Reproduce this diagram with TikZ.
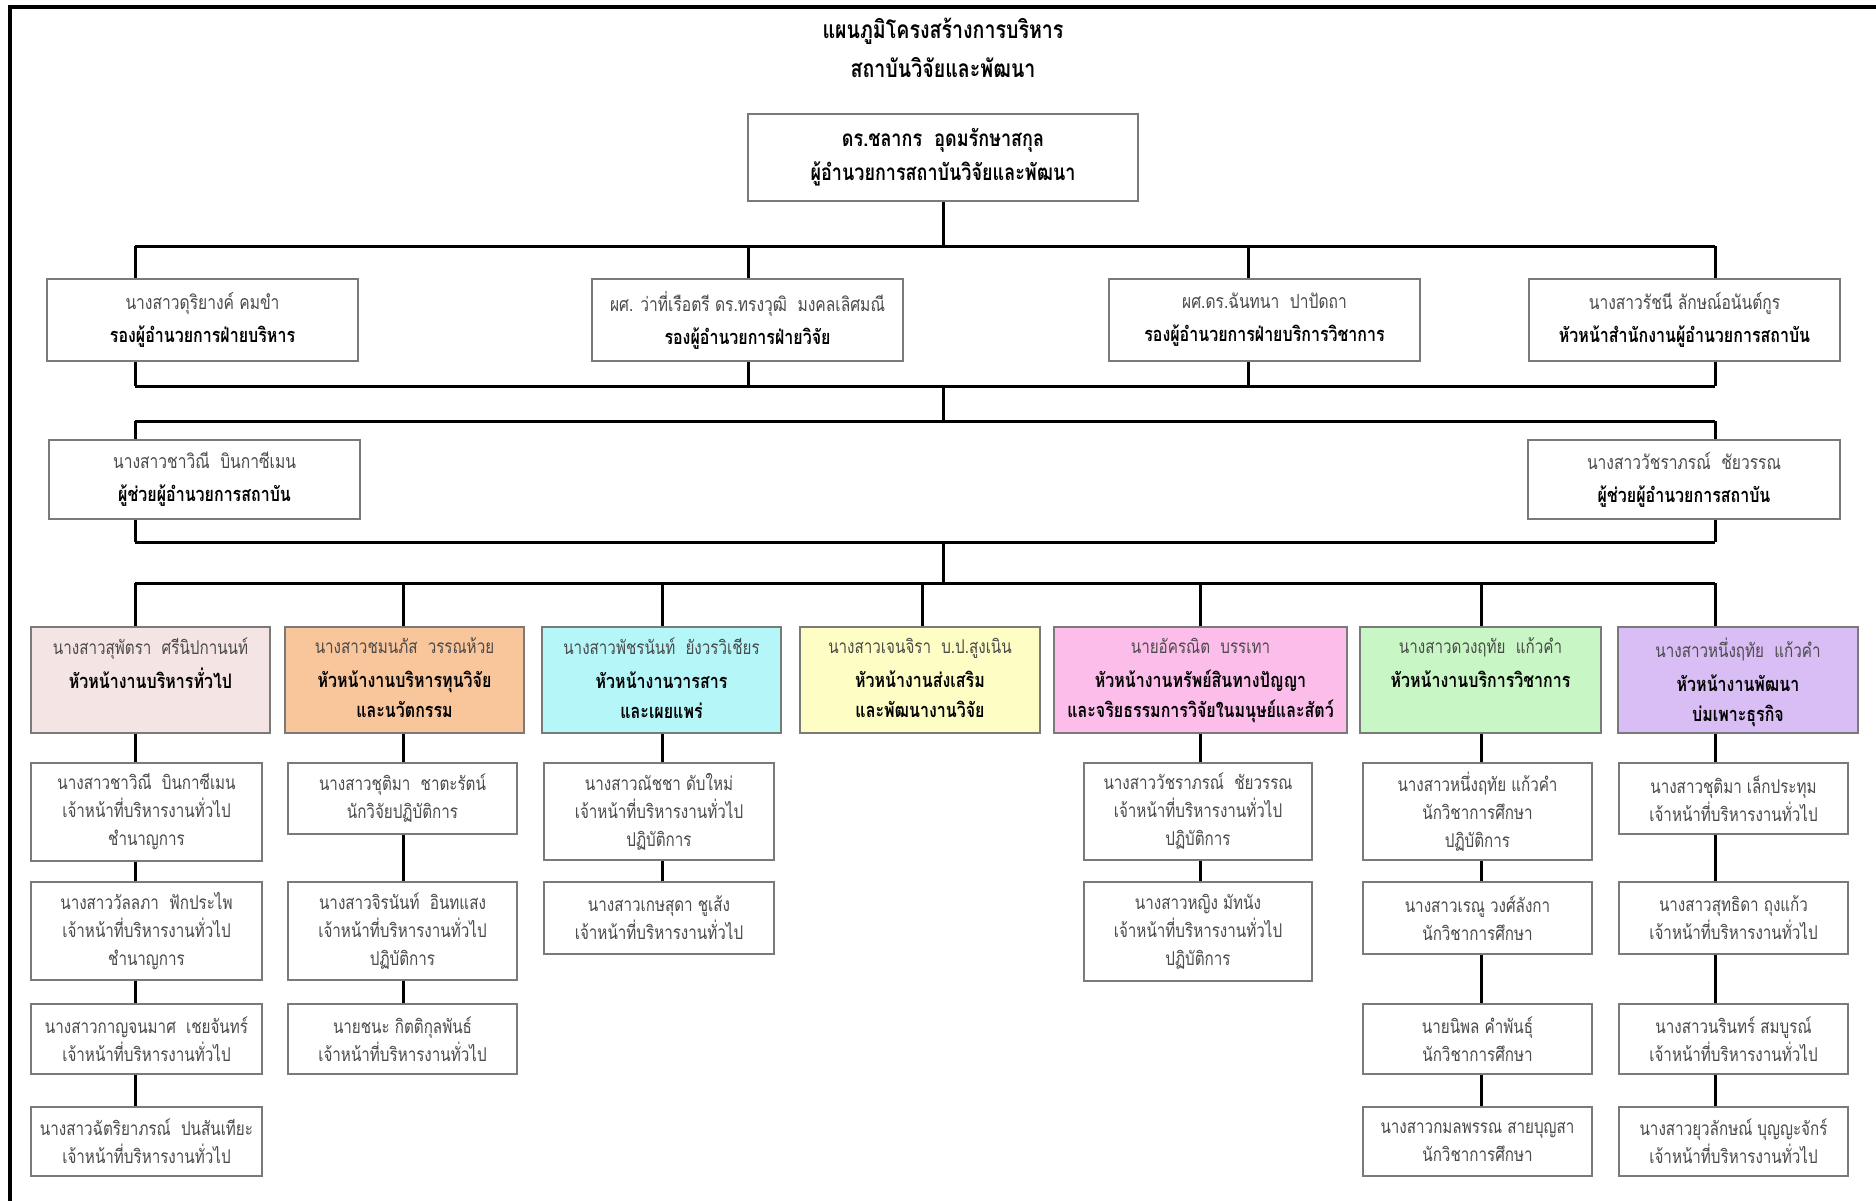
\documentclass[tikz,border=0pt]{standalone}
\usepackage{fontspec}
\newfontfamily\thaifont[Script=Thai,FakeStretch=0.8]{Loma}
\definecolor{hA}{HTML}{F4E4E4}
\definecolor{hB}{HTML}{F9C59B}
\definecolor{hC}{HTML}{B5F6F8}
\definecolor{hD}{HTML}{FEFEC4}
\definecolor{hE}{HTML}{FCBDEA}
\definecolor{hF}{HTML}{C8F7C5}
\definecolor{hG}{HTML}{D9BDF5}
\definecolor{edge}{HTML}{7A7A7A}
\definecolor{nmc}{HTML}{4A4A4A}
\newcommand\nmx[1]{{\color{nmc}#1}}
\newcommand\hdtext[4]{\parbox[c][#2pt][t]{#1pt}{\centering\vspace*{10pt}\nmx{#3}\\[4pt]\fontsize{20}{30}\selectfont\bfseries\color{black}#4}}
\tikzset{
  conn/.style={line width=3pt, black},
  box/.style={draw=edge, line width=1.3pt, fill=white, align=center, inner sep=0pt,
    font=\thaifont\fontsize{19}{28}\selectfont, text=nmc},
  colbox/.style={box},
  bigbox/.style={box, font=\thaifont\fontsize{19.5}{33}\selectfont},
  headbox/.style={box, font=\thaifont\fontsize{19}{31}\selectfont},
  titletext/.style={align=center, inner sep=0pt, font=\thaifont\bfseries\fontsize{24.5}{39}\selectfont}
}
\newcommand\bt[1]{\textcolor{black}{\fontsize{20}{33}\selectfont\bfseries #1}}
\begin{document}
\begin{tikzpicture}[x=1pt,y=-1pt]
\useasboundingbox (0,0) rectangle (1876,1201);
% frame (top and left visible)
\draw[line width=3.5pt] (10,1201) -- (10,7) -- (1876,7);

% title
\node[titletext] (title) at (943,48) {แผนภูมิโครงสร้างการบริหาร\\สถาบันวิจัยและพัฒนา};

% director
\node[box, minimum width=390, minimum height=87, font=\thaifont\bfseries\fontsize{22.5}{34}\selectfont, text=black] (dir) at (943,157.5)
  {ดร.ชลากร~~อุดมรักษาสกุล\\ผู้อำนวยการสถาบันวิจัยและพัฒนา};

% bus coordinates
\coordinate (b1c) at (943,246);
\coordinate (b1l) at (135,246);
\coordinate (b1r) at (1715,246);
\coordinate (k2) at (748,246);
\coordinate (k3) at (1248,246);
\coordinate (b2c) at (943,386);
\coordinate (b2l) at (135,386);
\coordinate (b2r) at (1715,386);
\coordinate (b3c) at (943,421);
\coordinate (b3l) at (135,421);
\coordinate (b3r) at (1715,421);
\coordinate (b4c) at (943,542);
\coordinate (b4l) at (135,542);
\coordinate (b4r) at (1715,542);
\coordinate (b5c) at (943,583);
\coordinate (b5l) at (135,583);
\coordinate (b5r) at (1715,583);
\coordinate (x2) at (403,583);
\coordinate (x3) at (662,583);
\coordinate (x4) at (922,583);
\coordinate (x5) at (1200,583);
\coordinate (x6) at (1481,583);

% row 2
\node[bigbox, minimum width=311, minimum height=82] (ra) at (202.5,320)
  {นางสาวดุริยางค์ คมขำ\\\bt{รองผู้อำนวยการฝ่ายบริหาร}};
\node[bigbox, minimum width=311, minimum height=82] (rb) at (747.5,320)
  {ผศ. ว่าที่เรือตรี ดร.ทรงวุฒิ~~มงคลเลิศมณี\\\bt{รองผู้อำนวยการฝ่ายวิจัย}};
\node[bigbox, minimum width=311, minimum height=82] (rc) at (1264.5,320)
  {ผศ.ดร.ฉันทนา~~ปาปัดถา\\\bt{รองผู้อำนวยการฝ่ายบริการวิชาการ}};
\node[bigbox, minimum width=311, minimum height=82] (rd) at (1684.5,320)
  {นางสาวรัชนี ลักษณ์อนันต์กูร\\\bt{หัวหน้าสำนักงานผู้อำนวยการสถาบัน}};

% row 3
\node[bigbox, minimum width=311, minimum height=79] (sl) at (204.5,479.5)
  {นางสาวชาวิณี~~บินกาซีเมน\\\bt{ผู้ช่วยผู้อำนวยการสถาบัน}};
\node[bigbox, minimum width=312, minimum height=79] (sr) at (1684,479.5)
  {นางสาววัชราภรณ์~~ชัยวรรณ\\\bt{ผู้ช่วยผู้อำนวยการสถาบัน}};

% heads
\node[headbox, fill=hA, minimum width=239, minimum height=106] (h1) at (150.5,680)
  {\hdtext{235}{104}{นางสาวสุพัตรา~~ศรีนิปกานนท์}{หัวหน้างานบริหารทั่วไป}};
\node[headbox, fill=hB, minimum width=239, minimum height=106] (h2) at (404.5,680)
  {\hdtext{235}{104}{นางสาวชมนภัส~~วรรณห้วย}{หัวหน้างานบริหารทุนวิจัย\\และนวัตกรรม}};
\node[headbox, fill=hC, minimum width=239, minimum height=106] (h3) at (661.5,680)
  {\hdtext{235}{104}{นางสาวพัชรนันท์~~ยังวรวิเชียร}{หัวหน้างานวารสาร\\และเผยแพร่}};
\node[headbox, fill=hD, minimum width=240, minimum height=106] (h4) at (920,680)
  {\hdtext{236}{104}{นางสาวเจนจิรา~~บ.ป.สูงเนิน}{หัวหน้างานส่งเสริม\\และพัฒนางานวิจัย}};
\node[headbox, fill=hE, minimum width=293, minimum height=106] (h5) at (1200.5,680)
  {\hdtext{289}{104}{นายอัครณิต~~บรรเทา}{หัวหน้างานทรัพย์สินทางปัญญา\\และจริยธรรมการวิจัยในมนุษย์และสัตว์}};
\node[headbox, fill=hF, minimum width=241, minimum height=106] (h6) at (1480.5,680)
  {\hdtext{237}{104}{นางสาวดวงฤทัย~~แก้วคำ}{หัวหน้างานบริการวิชาการ}};
\node[headbox, fill=hG, minimum width=240, minimum height=106] (h7) at (1738,680)
  {\hdtext{236}{104}{นางสาวหนึ่งฤทัย~~แก้วคำ}{หัวหน้างานพัฒนา\\บ่มเพาะธุรกิจ}};

% column 1
\node[colbox, minimum width=231, minimum height=98] (c1a) at (146.5,812)
  {นางสาวชาวิณี~~บินกาซีเมน\\เจ้าหน้าที่บริหารงานทั่วไป\\ชำนาญการ};
\node[colbox, minimum width=231, minimum height=98] (c1b) at (146.5,931)
  {นางสาววัลลภา~~ฟักประไพ\\เจ้าหน้าที่บริหารงานทั่วไป\\ชำนาญการ};
\node[colbox, minimum width=231, minimum height=70] (c1c) at (146.5,1039)
  {นางสาวกาญจนมาศ~~เชยจันทร์\\เจ้าหน้าที่บริหารงานทั่วไป};
\node[colbox, minimum width=231, minimum height=69] (c1d) at (146.5,1141.5)
  {นางสาวฉัตริยาภรณ์~~ปนสันเทียะ\\เจ้าหน้าที่บริหารงานทั่วไป};
% column 2
\node[colbox, minimum width=229, minimum height=71] (c2a) at (402.5,798.5)
  {นางสาวชุติมา~~ชาตะรัตน์\\นักวิจัยปฏิบัติการ};
\node[colbox, minimum width=229, minimum height=98] (c2b) at (402.5,931)
  {นางสาวจิรนันท์~~อินทแสง\\เจ้าหน้าที่บริหารงานทั่วไป\\ปฏิบัติการ};
\node[colbox, minimum width=229, minimum height=70] (c2c) at (402.5,1039)
  {นายชนะ กิตติกุลพันธ์\\เจ้าหน้าที่บริหารงานทั่วไป};
% column 3
\node[colbox, minimum width=230, minimum height=97] (c3a) at (659,811.5)
  {นางสาวณัชชา ดับใหม่\\เจ้าหน้าที่บริหารงานทั่วไป\\ปฏิบัติการ};
\node[colbox, minimum width=230, minimum height=72] (c3b) at (659,918)
  {นางสาวเกษสุดา ชูเส้ง\\เจ้าหน้าที่บริหารงานทั่วไป};
% column 5
\node[colbox, minimum width=228, minimum height=97] (c5a) at (1198,811.5)
  {นางสาววัชราภรณ์~~ชัยวรรณ\\เจ้าหน้าที่บริหารงานทั่วไป\\ปฏิบัติการ};
\node[colbox, minimum width=228, minimum height=99] (c5b) at (1198,931.5)
  {นางสาวหญิง มัทนัง\\เจ้าหน้าที่บริหารงานทั่วไป\\ปฏิบัติการ};
% column 6
\node[colbox, minimum width=229, minimum height=97] (c6a) at (1477.5,811.5)
  {นางสาวหนึ่งฤทัย แก้วคำ\\นักวิชาการศึกษา\\ปฏิบัติการ};
\node[colbox, minimum width=229, minimum height=72] (c6b) at (1477.5,918)
  {นางสาวเรณู วงศ์ลังกา\\นักวิชาการศึกษา};
\node[colbox, minimum width=229, minimum height=70] (c6c) at (1477.5,1039)
  {นายนิพล คำพันธุ์\\นักวิชาการศึกษา};
\node[colbox, minimum width=229, minimum height=69] (c6d) at (1477.5,1141.5)
  {นางสาวกมลพรรณ สายบุญสา\\นักวิชาการศึกษา};
% column 7
\node[colbox, minimum width=229, minimum height=71] (c7a) at (1733.5,798.5)
  {นางสาวชุติมา เล็กประทุม\\เจ้าหน้าที่บริหารงานทั่วไป};
\node[colbox, minimum width=229, minimum height=72] (c7b) at (1733.5,918)
  {นางสาวสุทธิดา ถุงแก้ว\\เจ้าหน้าที่บริหารงานทั่วไป};
\node[colbox, minimum width=229, minimum height=70] (c7c) at (1733.5,1039)
  {นางสาวนรินทร์ สมบูรณ์\\เจ้าหน้าที่บริหารงานทั่วไป};
\node[colbox, minimum width=229, minimum height=69] (c7d) at (1733.5,1141.5)
  {นางสาวยุวลักษณ์ บุญญะจักร์\\เจ้าหน้าที่บริหารงานทั่วไป};

% connectors: director to row 2
\draw[conn] (dir) -- (b1c);
\draw[conn] (b1l) -- (b1r);
\draw[conn] (b1l) -- (b1l |- ra.north);
\draw[conn] (k2) -- (k2 |- rb.north);
\draw[conn] (k3) -- (k3 |- rc.north);
\draw[conn] (b1r) -- (b1r |- rd.north);
% row 2 to bus 2
\draw[conn] (b1l |- ra.south) -- (b2l);
\draw[conn] (k2 |- rb.south) -- (k2 |- b2c);
\draw[conn] (k3 |- rc.south) -- (k3 |- b2c);
\draw[conn] (b1r |- rd.south) -- (b2r);
\draw[conn] (b2l) -- (b2r);
\draw[conn] (b2c) -- (b3c);
\draw[conn] (b3l) -- (b3r);
\draw[conn] (b3l) -- (b3l |- sl.north);
\draw[conn] (b3r) -- (b3r |- sr.north);
\draw[conn] (b3l |- sl.south) -- (b4l);
\draw[conn] (b3r |- sr.south) -- (b4r);
\draw[conn] (b4l) -- (b4r);
\draw[conn] (b4c) -- (b5c);
\draw[conn] (b5l) -- (b5r);
% drops to heads
\draw[conn] (b5l) -- (b5l |- h1.north);
\draw[conn] (x2) -- (x2 |- h2.north);
\draw[conn] (x3) -- (x3 |- h3.north);
\draw[conn] (x4) -- (x4 |- h4.north);
\draw[conn] (x5) -- (x5 |- h5.north);
\draw[conn] (x6) -- (x6 |- h6.north);
\draw[conn] (b5r) -- (b5r |- h7.north);
% columns
\draw[conn] (b5l |- h1.south) -- (b5l |- c1a.north);
\draw[conn] (b5l |- c1a.south) -- (b5l |- c1b.north);
\draw[conn] (b5l |- c1b.south) -- (b5l |- c1c.north);
\draw[conn] (b5l |- c1c.south) -- (b5l |- c1d.north);
\draw[conn] (x2 |- h2.south) -- (x2 |- c2a.north);
\draw[conn] (x2 |- c2a.south) -- (x2 |- c2b.north);
\draw[conn] (x2 |- c2b.south) -- (x2 |- c2c.north);
\draw[conn] (x3 |- h3.south) -- (x3 |- c3a.north);
\draw[conn] (x3 |- c3a.south) -- (x3 |- c3b.north);
\draw[conn] (x5 |- h5.south) -- (x5 |- c5a.north);
\draw[conn] (x5 |- c5a.south) -- (x5 |- c5b.north);
\draw[conn] (x6 |- h6.south) -- (x6 |- c6a.north);
\draw[conn] (x6 |- c6a.south) -- (x6 |- c6b.north);
\draw[conn] (x6 |- c6b.south) -- (x6 |- c6c.north);
\draw[conn] (x6 |- c6c.south) -- (x6 |- c6d.north);
\draw[conn] (b5r |- h7.south) -- (b5r |- c7a.north);
\draw[conn] (b5r |- c7a.south) -- (b5r |- c7b.north);
\draw[conn] (b5r |- c7b.south) -- (b5r |- c7c.north);
\draw[conn] (b5r |- c7c.south) -- (b5r |- c7d.north);
\end{tikzpicture}
\end{document}
